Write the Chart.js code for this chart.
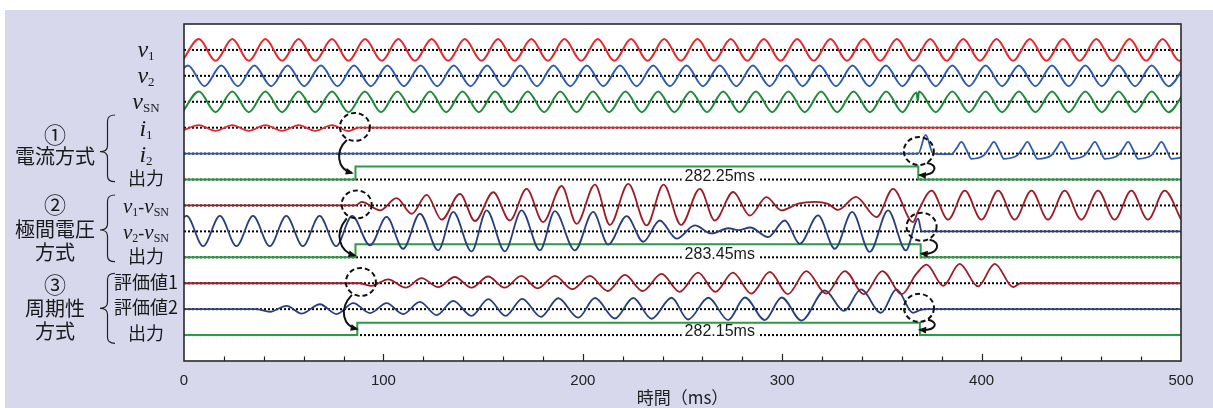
<!DOCTYPE html>
<html>
<head>
<meta charset="utf-8">
<script src="https://cdn.jsdelivr.net/npm/chart.js@4.4.1/dist/chart.umd.min.js"></script>
<style>
  html, body { margin: 0; padding: 0; background: #fff; }
  canvas { display: block; }
</style>
</head>
<body>
<canvas id="wave" width="1213" height="408"></canvas>
<script>
// row baselines (top to bottom), one unit per row
const rowBase = [12, 11, 10, 9, 8, 7, 6, 5, 4, 3, 2, 1];
const rowNames = ['v1', 'v2', 'vSN', 'i1', 'i2', '出力', 'v1-vSN', 'v2-vSN', '出力', '評価値1', '評価値2', '出力'];
const durations = ['282.25ms', '283.45ms', '282.15ms'];
const xTicks = [0, 100, 200, 300, 400, 500];

// extremes of each trace: time (ms) and offset from its baseline
const v1T = [-0.8, 7.5, 15.8, 24.2, 32.5, 40.8, 49.2, 57.5, 65.8, 74.2,
  82.5, 90.8, 99.2, 107.5, 115.8, 124.2, 132.5, 140.8, 149.2, 157.5,
  165.8, 174.2, 182.5, 190.8, 199.2, 207.5, 215.8, 224.2, 232.5, 240.8,
  249.2, 257.5, 265.8, 274.2, 282.5, 290.8, 299.2, 307.5, 315.8, 324.2,
  332.5, 340.8, 349.2, 357.5, 365.8, 374.2, 382.5, 390.8, 399.2, 407.5,
  415.8, 424.2, 432.5, 440.8, 449.2, 457.5, 465.8, 474.2, 482.5, 490.8,
  499.2, 507.5];
const v1V = [-.42, .42, -.42, .42, -.42, .42, -.42, .42, -.42, .42,
  -.42, .42, -.42, .42, -.42, .42, -.42, .42, -.42, .42,
  -.42, .42, -.42, .42, -.42, .42, -.42, .42, -.42, .42,
  -.42, .42, -.42, .42, -.42, .42, -.42, .42, -.42, .42,
  -.42, .42, -.42, .42, -.42, .42, -.42, .42, -.42, .42,
  -.42, .42, -.42, .42, -.42, .42, -.42, .42, -.42, .42,
  -.42, .42];

const v2T = [-6.3, 2.0, 10.3, 18.7, 27.0, 35.3, 43.7, 52.0, 60.3, 68.7,
  77.0, 85.3, 93.7, 102.0, 110.3, 118.7, 127.0, 135.3, 143.7, 152.0,
  160.3, 168.7, 177.0, 185.3, 193.7, 202.0, 210.3, 218.7, 227.0, 235.3,
  243.7, 252.0, 260.3, 268.7, 277.0, 285.3, 293.7, 302.0, 310.3, 318.7,
  327.0, 335.3, 343.7, 352.0, 360.3, 368.7, 377.0, 385.3, 393.7, 402.0,
  410.3, 418.7, 427.0, 435.3, 443.7, 452.0, 460.3, 468.7, 477.0, 485.3,
  493.7, 502.0];
const v2V = [-.4, .4, -.4, .4, -.4, .4, -.4, .4, -.4, .4,
  -.4, .4, -.4, .4, -.4, .4, -.4, .4, -.4, .4,
  -.4, .4, -.4, .4, -.4, .4, -.4, .4, -.4, .4,
  -.4, .4, -.4, .4, -.4, .4, -.4, .4, -.4, .4,
  -.4, .4, -.4, .4, -.4, .4, -.4, .4, -.4, .4,
  -.4, .4, -.4, .4, -.4, .4, -.4, .4, -.4, .4,
  -.4, .4];

const vsnT = [-0.8, 7.5, 15.8, 24.2, 32.5, 40.8, 49.2, 57.5, 65.8, 74.2,
  82.5, 90.7, 98.8, 107.0, 115.2, 123.4, 131.5, 139.7, 147.9, 156.0,
  164.2, 172.4, 180.6, 188.7, 196.9, 205.1, 213.2, 221.4, 229.6, 237.8,
  245.9, 254.1, 262.3, 270.4, 278.6, 286.8, 295.0, 303.1, 311.3, 319.5,
  327.6, 335.8, 344.0, 352.2, 360.3, 367.4, 368.0, 368.6, 377.0, 385.3,
  393.7, 402.0, 410.3, 418.7, 427.0, 435.3, 443.7, 452.0, 460.3, 468.7,
  477.0, 485.3, 493.7, 502.0];
const vsnV = [-.4, .4, -.4, .4, -.4, .4, -.4, .4, -.4, .4,
  -.4, .4, -.4, .4, -.4, .4, -.4, .4, -.4, .4,
  -.4, .4, -.4, .4, -.4, .4, -.4, .4, -.4, .4,
  -.4, .4, -.4, .4, -.4, .4, -.4, .4, -.4, .4,
  -.4, .4, -.4, .4, -.4, .36, .02, .4, -.4, .4,
  -.4, .4, -.4, .4, -.4, .4, -.4, .4, -.4, .4,
  -.4, .4, -.4, .4];

const i1T = [-0.8, 7.5, 15.8, 24.2, 32.5, 40.8, 49.2, 57.5, 65.8, 74.2, 82.5, 87.5, 500];
const i1V = [-.12, .1, -.12, .1, -.12, .1, -.12, .1, -.12, .1, -.13, 0, 0];

const i2T = [0, 368.2, 372.0, 375.7,
  384.9, 387.4, 389.9, 392.4, 394.9,
  401.2, 403.7, 406.2, 408.7, 411.2,
  418.0, 420.5, 423.0, 425.5, 428.0,
  435.0, 437.5, 440.0, 442.5, 445.0,
  451.8, 454.3, 456.8, 459.3, 461.8,
  468.5, 471.0, 473.5, 476.0, 478.5,
  485.2, 487.7, 490.2, 492.7, 495.2, 500];
const i2V = [0, 0, .72, 0,
  -.02, .2, .45, .15, -.2,
  -.06, .2, .45, .15, -.2,
  -.06, .2, .45, .15, -.2,
  -.06, .2, .45, .15, -.2,
  -.06, .2, .45, .15, -.2,
  -.06, .2, .45, .15, -.2,
  -.06, .2, .45, .15, -.2, -.15];

const d1T = [0, 86, 89.1, 98.3, 106.6, 114.2, 121.7, 129.2, 138.4, 145.9,
  155.1, 163.4, 171.8, 180.1, 189.4, 196.9, 206.1, 213.6, 222.8, 232.0,
  240.5, 249.3, 258.7, 266.2, 275.4, 283.8, 292.1, 299.6, 308.0, 316.4,
  323.0, 328.0, 337.0, 347.3, 355.6, 365.6, 368.2, 374.9, 383.2, 391.6,
  399.9, 408.3, 416.6, 425.0, 433.3, 441.7, 450.0, 458.4, 466.7, 475.1,
  483.4, 491.8, 500.1];
const d1V = [0, 0, .14, -.19, .28, -.32, .41, -.55, .45, -.6,
  .51, -.58, .64, -.64, .75, -.71, .8, -.75, .83, -.77,
  .8, -.75, .64, -.58, .52, -.39, .32, -.19, .07, .14,
  .06, -.17, .33, -.45, .64, -.64, -.22, .57, -.55, .57,
  -.55, .57, -.55, .57, -.55, .57, -.55, .57, -.55, .57,
  -.55, .57, -.55];

const d2T = [-7.0, 1.3, 9.6, 18.0, 26.3, 34.6, 43.0, 51.3, 59.6, 68.0,
  76.3, 84.3, 93.3, 101.6, 109.9, 118.3, 127.5, 135.0, 144.2, 151.8,
  160.9, 169.3, 178.5, 186.0, 196.0, 205.2, 212.7, 222.0, 230.3, 238.6,
  247.0, 256.2, 264.5, 273.0, 278.0, 284.0, 292.9, 301.3, 308.8, 318.0,
  326.4, 335.1, 343.9, 353.1, 362.0, 368.2, 369.9, 500];
const d2V = [-.57, .6, -.57, .6, -.57, .6, -.57, .6, -.57, .6,
  -.57, .6, -.54, .56, -.67, .68, -.73, .75, -.77, .81,
  -.77, .81, -.73, .78, -.73, .75, -.51, .59, -.4, .42,
  -.28, .23, -.08, .12, .05, .15, -.22, .42, -.48, .62,
  -.67, .75, -.79, .81, -.73, .49, 0, 0];

const e1T = [0, 88, 94.1, 102.4, 111.2, 119.1, 127.5, 135.8, 144.2, 152.5,
  160.8, 169.2, 177.3, 186.0, 194.8, 203.5, 212.5, 221.1, 230.0, 239.5,
  248.5, 257.8, 266.5, 275.3, 284.5, 293.8, 302.8, 312.1, 322.0, 331.4,
  341.0, 350.2, 360.0, 367.0, 372.4, 380.7, 389.0, 398.2, 406.6, 415.8,
  419.5, 500];
const e1V = [0, 0, -.1, .15, -.17, .2, -.15, .24, -.17, .26,
  -.17, .28, -.2, .28, -.23, .28, -.3, .32, -.3, .36,
  -.33, .41, -.33, .41, -.4, .44, -.42, .47, -.4, .47,
  -.42, .47, -.42, .33, .72, -.1, .75, -.12, .75, -.15,
  0, 0];

const e2T = [0, 36, 43.1, 51.5, 59.0, 68.2, 76.5, 84.9, 93.3, 101.6,
  109.9, 118.3, 126.7, 135.0, 144.2, 152.6, 161.3, 169.6, 179.0, 187.7,
  197.7, 206.1, 216.1, 225.3, 234.5, 244.5, 252.8, 263.0, 272.9, 281.3,
  291.3, 299.7, 309.7, 321.4, 331.0, 339.5, 349.5, 357.3, 365.6, 369.0,
  373.0, 500];
const e2V = [0, 0, -.1, .13, -.17, .19, -.19, .23, -.15, .23,
  -.19, .28, -.23, .32, -.26, .39, -.26, .4, -.3, .42,
  -.33, .43, -.36, .43, -.37, .44, -.4, .44, -.42, .45,
  -.42, .45, -.44, .72, -.07, .76, -.14, .76, -.14, -.04,
  0, 0];

// relay outputs: step up at fault detection, down at clearing
const out1T = [0, 86.0, 86.0, 368.25, 368.25, 500];
const out1V = [0, 0, .5, .5, 0, 0];
const out2T = [0, 86.0, 86.0, 369.45, 369.45, 500];
const out2V = [0, 0, .5, .5, 0, 0];
const out3T = [0, 86.9, 86.9, 369.05, 369.05, 500];
const out3V = [0, 0, .48, .48, 0, 0];

const RED = '#e8262b', BLUE = '#2d5cae', GREEN = '#1f8b3b', OUT = '#2f9a46';
const DRED = '#9c1c28', NAVY = '#283f7e';

function pts(ts, vs, base) {
  return ts.map((t, i) => ({ x: t, y: base + vs[i] }));
}
function wave(ts, vs, row, color, w) {
  return { data: pts(ts, vs, rowBase[row]), borderColor: color, borderWidth: w || 1.8,
    cubicInterpolationMode: 'monotone', order: 1 };
}
function step(ts, vs, row) {
  return { data: pts(ts, vs, rowBase[row]), borderColor: OUT, borderWidth: 2, tension: 0, order: 1 };
}

const datasets = [
  wave(v1T, v1V, 0, RED, 2),
  wave(v2T, v2V, 1, BLUE, 2),
  wave(vsnT, vsnV, 2, GREEN, 2),
  wave(i1T, i1V, 3, RED),
  wave(i2T, i2V, 4, BLUE),
  step(out1T, out1V, 5),
  wave(d1T, d1V, 6, DRED),
  wave(d2T, d2V, 7, NAVY),
  step(out2T, out2V, 8),
  wave(e1T, e1V, 9, DRED),
  wave(e2T, e2V, 10, NAVY),
  step(out3T, out3V, 11)
];
rowBase.forEach(b => datasets.push({
  data: [{ x: 0, y: b }, { x: 500, y: b }], borderColor: '#000', borderWidth: 2,
  borderDash: [2, 2], tension: 0, order: 10
}));

// dashed circles and hooked arrows (circle centre in data, arrow in px offsets)
const marks = [
  { t: 85.7, y: 9.03, a: [-8, 13], c1: [-20, 24], c2: [-18, 42], b: [-3, 46] },
  { t: 368.5, y: 8.10, a: [8, 12], c1: [20, 13], c2: [18, 25], b: [1, 24] },
  { t: 86.6, y: 6.04, a: [-10, 14], c1: [-23, 30], c2: [-17, 47], b: [-2, 51] },
  { t: 369.9, y: 5.18, a: [8, 13], c1: [20, 15], c2: [18, 28], b: [0, 27] },
  { t: 88.7, y: 3.05, a: [-9, 13], c1: [-23, 28], c2: [-17, 44], b: [-4, 47] },
  { t: 368.6, y: 2.05, a: [9, 12], c1: [20, 14], c2: [18, 23], b: [1, 22] }
];
const groups = [
  { lines: ['①', '電流方式'], ys: [135, 156.7], brace: [115, 151.7, 181.7] },
  { lines: ['②', '極間電圧', '方式'], ys: [205, 229.5, 252], brace: [195, 230, 261.7] },
  { lines: ['③', '周期性', '方式'], ys: [285, 308.3, 331.7], brace: [273.3, 308.3, 343.3] }
];

function drawName(ctx, name, cx, y, big) {
  ctx.fillStyle = '#1a1a1a';
  if (!/^[vi]/.test(name)) {
    ctx.font = '18px "Noto Sans CJK JP"';
    ctx.textAlign = 'center';
    ctx.textBaseline = 'middle';
    ctx.fillText(name, cx, y - 1.5);
    return;
  }
  const m = big ? 24 : 21, s = big ? 13 : 12;
  const bits = [];
  name.split(/(-)/).forEach(tok => {
    if (tok === '-') bits.push(['-', (m - 3) + 'px "Liberation Serif"', 0]);
    else {
      bits.push([tok[0], 'italic ' + m + 'px "Liberation Serif"', 0]);
      bits.push([tok.slice(1), s + 'px "Liberation Serif"', 3]);
    }
  });
  let w = 0;
  bits.forEach(p => { ctx.font = p[1]; w += ctx.measureText(p[0]).width; });
  let x = cx - w / 2;
  const by = y + (name[0] === 'i' ? 8.5 : (big ? 7 : 8));
  ctx.textAlign = 'left';
  ctx.textBaseline = 'alphabetic';
  bits.forEach(p => {
    ctx.font = p[1];
    ctx.fillText(p[0], x, by + p[2]);
    x += ctx.measureText(p[0]).width;
  });
}

function brace(ctx, x0, x1, top, tip, bot) {
  const xm = (x0 + x1) / 2, r = 6;
  ctx.beginPath();
  ctx.moveTo(x1, top);
  ctx.quadraticCurveTo(xm, top, xm, top + r);
  ctx.lineTo(xm, tip - r);
  ctx.quadraticCurveTo(xm, tip, x0, tip);
  ctx.quadraticCurveTo(xm, tip, xm, tip + r);
  ctx.lineTo(xm, bot - r);
  ctx.quadraticCurveTo(xm, bot, x1, bot);
  ctx.stroke();
}

const deco = {
  id: 'deco',
  beforeDraw(chart) {
    const { ctx, chartArea: a } = chart;
    ctx.save();
    ctx.fillStyle = '#fff';
    ctx.fillRect(0, 0, chart.width, chart.height);
    ctx.fillStyle = '#d7d8ec';
    ctx.fillRect(5, 10, chart.width - 5, chart.height - 10);
    ctx.fillStyle = '#fff';
    ctx.fillRect(a.left, a.top, a.right - a.left, a.bottom - a.top);
    ctx.restore();
  },
  afterDatasetsDraw(chart) {
    const { ctx } = chart;
    const xs = chart.scales.x, ys = chart.scales.y;
    ctx.save();
    // detection time labels on the output rows
    ctx.font = '16px "Liberation Sans"';
    ctx.textAlign = 'right';
    ctx.textBaseline = 'middle';
    [5, 8, 11].forEach((row, i) => {
      const x = xs.getPixelForValue(286.3), y = ys.getPixelForValue(rowBase[row]) - 3;
      const w = ctx.measureText(durations[i]).width;
      ctx.fillStyle = '#fff';
      ctx.fillRect(x - w - 3, y - 7, w + 6, 13);
      ctx.fillStyle = '#1a1a1a';
      ctx.fillText(durations[i], x, y);
    });
    ctx.strokeStyle = '#111';
    ctx.fillStyle = '#111';
    marks.forEach(m => {
      const cx = xs.getPixelForValue(m.t), cy = ys.getPixelForValue(m.y);
      ctx.lineWidth = 2;
      ctx.setLineDash([5, 3]);
      ctx.beginPath();
      ctx.ellipse(cx, cy, 15, 14, 0, 0, Math.PI * 2);
      ctx.stroke();
      ctx.setLineDash([]);
      const bx = cx + m.b[0], by = cy + m.b[1];
      const qx = cx + m.c2[0], qy = cy + m.c2[1];
      ctx.beginPath();
      ctx.moveTo(cx + m.a[0], cy + m.a[1]);
      ctx.bezierCurveTo(cx + m.c1[0], cy + m.c1[1], qx, qy, bx, by);
      ctx.stroke();
      const ang = Math.atan2(by - qy, bx - qx);
      ctx.beginPath();
      ctx.moveTo(bx + 2 * Math.cos(ang), by + 2 * Math.sin(ang));
      ctx.lineTo(bx - 7 * Math.cos(ang - 0.5), by - 7 * Math.sin(ang - 0.5));
      ctx.lineTo(bx - 7 * Math.cos(ang + 0.5), by - 7 * Math.sin(ang + 0.5));
      ctx.closePath();
      ctx.fill();
    });
    ctx.restore();
  },
  afterDraw(chart) {
    const { ctx, chartArea: a } = chart;
    const xs = chart.scales.x, ys = chart.scales.y;
    ctx.save();
    // small inward ticks every 20 ms
    ctx.strokeStyle = '#222';
    ctx.lineWidth = 1.2;
    for (let t = 20; t < 500; t += 20) {
      const x = Math.round(xs.getPixelForValue(t)) + 0.5;
      ctx.beginPath();
      ctx.moveTo(x, a.bottom);
      ctx.lineTo(x, a.bottom - (t % 100 === 0 ? 7 : 4.5));
      ctx.stroke();
    }
    ctx.strokeStyle = '#2a2a2a';
    ctx.lineWidth = 1.6;
    ctx.strokeRect(a.left, a.top, a.right - a.left, a.bottom - a.top);
    // row names
    rowNames.forEach((n, i) => drawName(ctx, n, 146, ys.getPixelForValue(rowBase[i]), i < 5));
    // method groups
    ctx.fillStyle = '#1a1a1a';
    ctx.textAlign = 'center';
    ctx.textBaseline = 'middle';
    groups.forEach(g => {
      g.lines.forEach((s, k) => {
        ctx.font = (k === 0 ? '22px' : '20px') + ' "Noto Sans CJK JP"';
        ctx.fillText(s, 55, g.ys[k]);
      });
      ctx.strokeStyle = '#222';
      ctx.lineWidth = 1.2;
      brace(ctx, 100, 115, g.brace[0], g.brace[1], g.brace[2]);
    });
    ctx.restore();
  }
};

new Chart(document.getElementById('wave'), {
  type: 'line',
  data: { datasets },
  options: {
    responsive: false,
    animation: false,
    devicePixelRatio: 1,
    layout: { padding: { left: 184, right: 32, top: 24, bottom: 0 } },
    elements: { point: { radius: 0 } },
    scales: {
      x: {
        type: 'linear', min: 0, max: 500,
        grid: { display: false, drawTicks: false },
        border: { display: false },
        afterBuildTicks: s => { s.ticks = xTicks.map(v => ({ value: v })); },
        ticks: { padding: 11, color: '#222', maxRotation: 0, font: { family: 'Liberation Sans', size: 15 } },
        title: { display: true, text: '時間（ms）', color: '#222', padding: { top: 0, bottom: 0 },
          font: { family: 'Noto Sans CJK JP', size: 17 } },
        afterFit: s => { s.height = 47; }
      },
      y: { type: 'linear', min: 0, max: 13, display: false }
    },
    plugins: { legend: { display: false }, tooltip: { enabled: false } }
  },
  plugins: [deco]
});
</script>
</body>
</html>
